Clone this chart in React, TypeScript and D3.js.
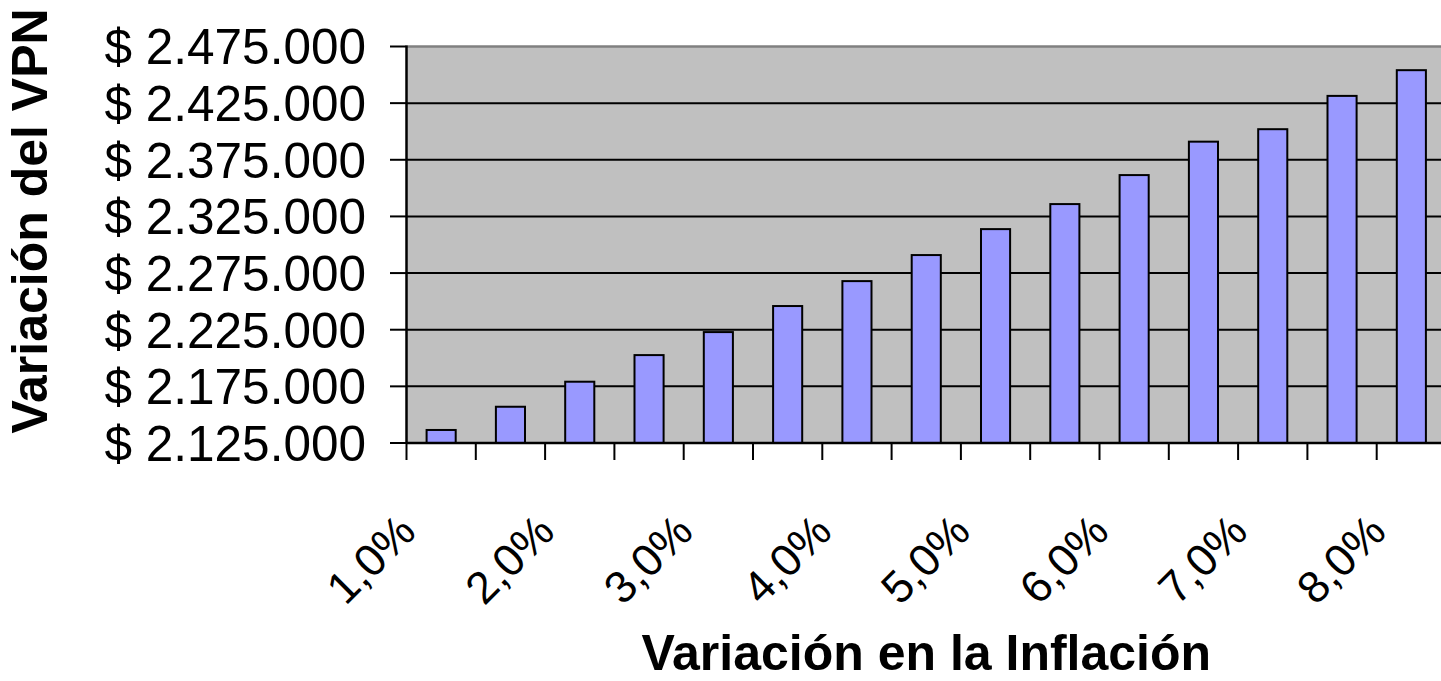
import React from 'react';
import * as d3 from 'd3';

// inflation variation (x categories)
const inflation = [
  '1,0%', '1,5%', '2,0%', '2,5%', '3,0%', '3,5%', '4,0%', '4,5%',
  '5,0%', '5,5%', '6,0%', '6,5%', '7,0%', '7,5%', '8,0%',
];
// VPN per inflation step
const vpn = [
  2136500, 2157000, 2179100, 2202600, 2222900, 2245900, 2267900, 2290900,
  2313800, 2335900, 2361500, 2391000, 2402000, 2431400, 2454100,
];
const yTicks = [2125000, 2175000, 2225000, 2275000, 2325000, 2375000, 2425000, 2475000];

const W = 1441, H = 681;
const FONT = '"Liberation Sans", Arial, sans-serif';

const fmt = (v: number) => '$ ' + d3.format(',')(v).replace(/,/g, '.');

export default function App() {
  const x = d3.scaleBand<string>().domain(inflation).range([406.5, 1446]).paddingInner(0).paddingOuter(0);
  const y = d3.scaleLinear().domain([2125000, 2475000]).range([443, 46.5]);
  const bw = x.bandwidth() * 0.42;
  const [x0, x1] = x.range();

  return (
    <svg width={W} height={H} style={{ position: 'absolute', left: 0, top: 0, background: '#fff' }}
      fontFamily={FONT}>
      {/* plot background */}
      <rect x={x0} y={y(2475000)} width={x1 - x0} height={y(2125000) - y(2475000)} fill="#C0C0C0" />
      <line x1={x0} x2={x1} y1={y(2475000)} y2={y(2475000)} stroke="#808080" strokeWidth={2.5} />

      {/* gridlines + y ticks */}
      {yTicks.map((t, i) => (
        <g key={t}>
          {i > 0 && i < yTicks.length - 1 && (
            <line x1={x0} x2={x1} y1={y(t)} y2={y(t)} stroke="#000" strokeWidth={2} />
          )}
          <line x1={390} x2={x0} y1={y(t)} y2={y(t)} stroke="#000" strokeWidth={2} />
          <text x={366} y={y(t)} dy="0.36em" textAnchor="end" fontSize={49.5}>{fmt(t)}</text>
        </g>
      ))}

      {/* bars */}
      {vpn.map((v, i) => {
        const cx = (x(inflation[i]) as number) + x.bandwidth() / 2;
        return (
          <rect key={i} x={cx - bw / 2} y={y(v)} width={bw} height={y(2125000) - y(v)}
            fill="#9999FF" stroke="#000" strokeWidth={2} />
        );
      })}

      {/* axes */}
      <line x1={x0} x2={x1} y1={y(2125000)} y2={y(2125000)} stroke="#000" strokeWidth={2.5} />
      <line x1={x0} x2={x0} y1={y(2475000) - 1} y2={y(2125000)} stroke="#000" strokeWidth={2.5} />
      {inflation.map((c) => (
        <line key={c} x1={x(c) as number} x2={x(c) as number} y1={y(2125000)} y2={460} stroke="#000" strokeWidth={2} />
      ))}

      {/* x tick labels, every other category */}
      {inflation.map((c, i) => {
        if (i % 2 !== 0) return null;
        const cx = (x(c) as number) + x.bandwidth() / 2;
        return (
          <text key={c} transform={`translate(${cx - 23},534) rotate(-45)`} textAnchor="end" fontSize={45}>{c}</text>
        );
      })}

      {/* axis titles */}
      <text x={(x0 + x1) / 2} y={670} textAnchor="middle" fontSize={50} fontWeight="bold">
        Variación en la Inflación
      </text>
      <text transform={`translate(47,221) rotate(-90)`} textAnchor="middle" fontSize={50} fontWeight="bold">
        Variación del VPN
      </text>
    </svg>
  );
}
